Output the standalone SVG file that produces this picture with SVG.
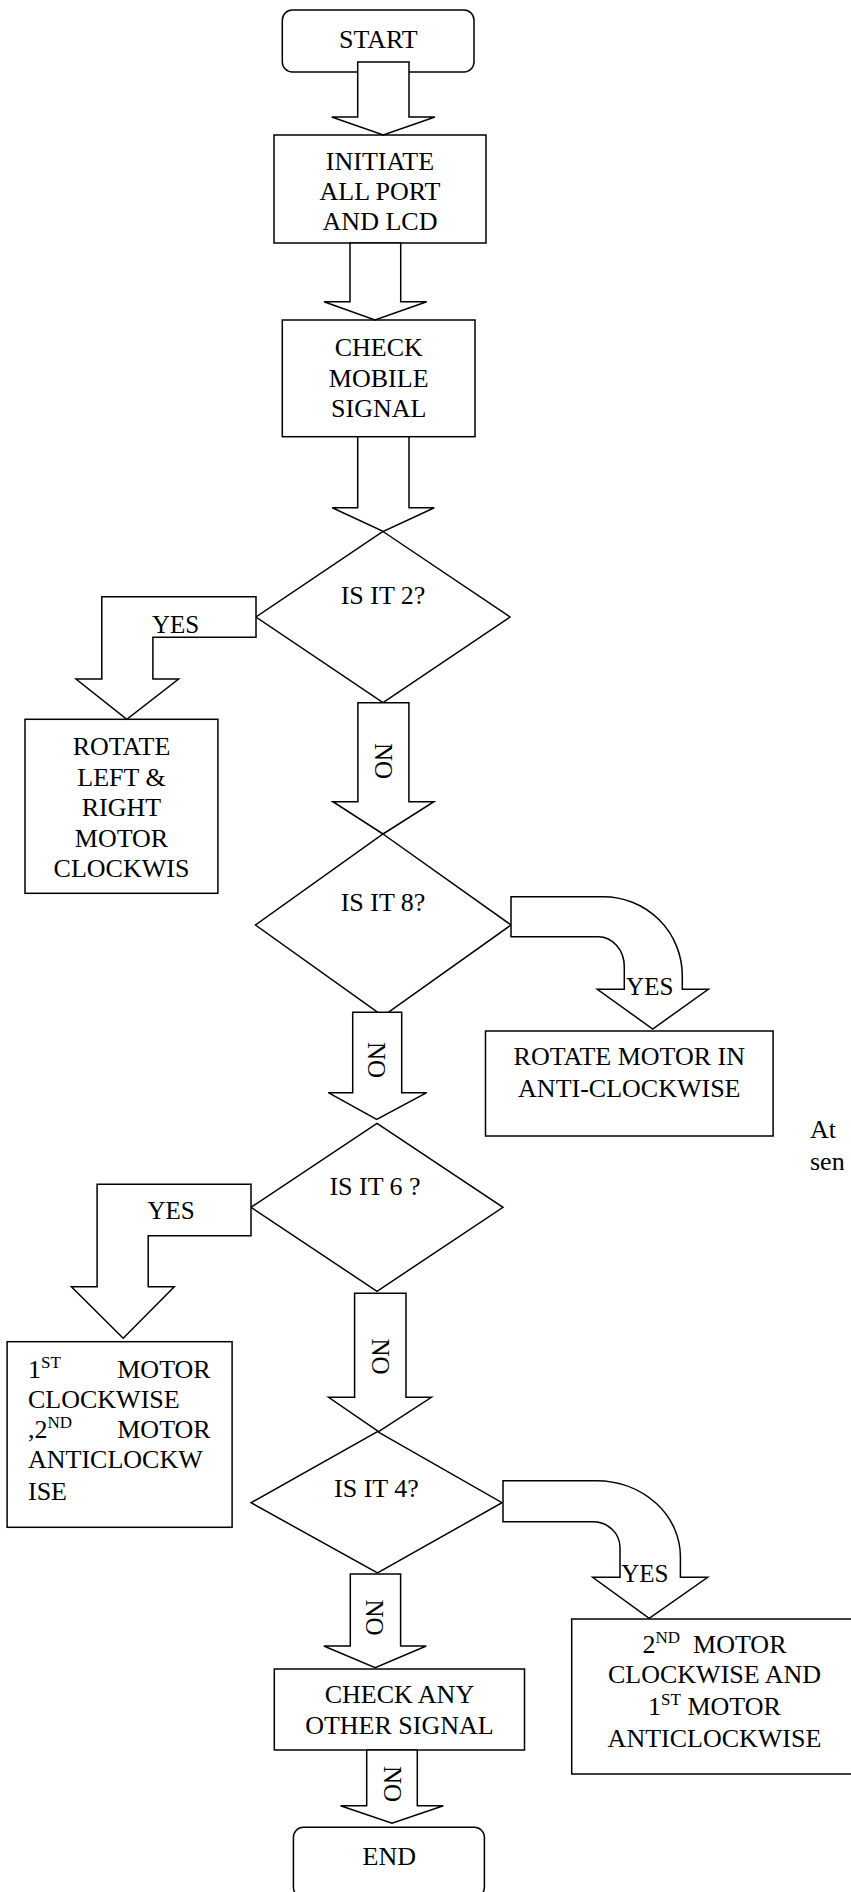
<svg xmlns="http://www.w3.org/2000/svg" width="851" height="1892" viewBox="0 0 851 1892">
<style>
.s{fill:#fff;stroke:#000;stroke-width:1.5;stroke-linejoin:miter}
.t{font-family:"Liberation Serif","Times New Roman",serif;font-size:26px;fill:#000}
.m{text-anchor:middle}
.e{text-anchor:end}
.lb{font-family:"Liberation Serif","Times New Roman",serif;font-size:25px;fill:#000}
</style>
<rect width="851" height="1892" fill="#fff"/>
<g id="nodes">
<g id="start"><rect class="s" x="282.3" y="10" width="191.7" height="62" rx="10"/><text class="t m" x="378.3" y="48.3">START</text></g>
<g id="initiate"><rect class="s" x="274" y="135" width="212" height="108"/><text class="t m" x="380" y="170">INITIATE</text><text class="t m" x="380" y="200">ALL PORT</text><text class="t m" x="380" y="230">AND LCD</text></g>
<g id="check"><rect class="s" x="282.3" y="320" width="192.7" height="116.7"/><text class="t m" x="378.7" y="356">CHECK</text><text class="t m" x="378.7" y="386.5">MOBILE</text><text class="t m" x="378.7" y="417">SIGNAL</text></g>
<g id="d2"><polygon class="s" points="383,531.5 510,617 383,702.5 256,617"/><text class="t m" x="383" y="604">IS IT 2?</text></g>
<g id="rot1"><rect class="s" x="25" y="719.3" width="192.9" height="174"/><text class="t m" x="121.5" y="755">ROTATE</text><text class="t m" x="121.5" y="785.7">LEFT &amp;</text><text class="t m" x="121.5" y="816">RIGHT</text><text class="t m" x="121.5" y="846.7">MOTOR</text><text class="t m" x="121.5" y="876.7">CLOCKWIS</text></g>
<g id="d8"><polygon class="s" points="383,834 511,925 383,1016 255.5,925"/><text class="t m" x="383" y="910.7">IS IT 8?</text></g>
<g id="rot2"><rect class="s" x="485.5" y="1031" width="287.6" height="105"/><text class="t m" x="629.3" y="1065">ROTATE MOTOR IN</text><text class="t m" x="629.3" y="1096.7">ANTI-CLOCKWISE</text></g>
<g id="note"><text class="t" x="810" y="1138">At</text><text class="t" x="810" y="1170">sen</text></g>
<g id="d6"><polygon class="s" points="377,1123.3 503,1207.3 377,1291.3 251,1207.3"/><text class="t m" x="375" y="1195">IS IT 6 ?</text></g>
<g id="box6"><rect class="s" x="7.1" y="1341.7" width="225" height="185.6"/>
<text class="t" x="28" y="1378.3">1<tspan dy="-10" font-size="17">ST</tspan></text><text class="t e" x="210.7" y="1378.3">MOTOR</text>
<text class="t" x="28" y="1408.3">CLOCKWISE</text>
<text class="t" x="28" y="1438.3">,2<tspan dy="-10" font-size="17">ND</tspan></text><text class="t e" x="210.7" y="1438.3">MOTOR</text>
<text class="t" x="28" y="1468.3">ANTICLOCKW</text>
<text class="t" x="28" y="1500">ISE</text></g>
<g id="d4"><polygon class="s" points="377.5,1431.7 502,1502.7 377.5,1573 251,1502.7"/><text class="t m" x="376.4" y="1497.3">IS IT 4?</text></g>
<g id="box4"><rect class="s" x="571.7" y="1619" width="290" height="155"/>
<text class="t m" x="714.5" y="1653.3">2<tspan dy="-10" font-size="17">ND</tspan><tspan dy="10">&#160; MOTOR</tspan></text>
<text class="t m" x="714.5" y="1683.3">CLOCKWISE AND</text>
<text class="t m" x="714.5" y="1715">1<tspan dy="-10" font-size="17">ST</tspan><tspan dy="10"> MOTOR</tspan></text>
<text class="t m" x="714.5" y="1746.7">ANTICLOCKWISE</text></g>
<g id="checkany"><rect class="s" x="274.3" y="1669" width="250.2" height="81"/><text class="t m" x="399.4" y="1703.3">CHECK ANY</text><text class="t m" x="399.4" y="1734.3">OTHER SIGNAL</text></g>
<g id="end"><rect class="s" x="293.4" y="1827.3" width="191" height="70" rx="10"/><text class="t m" x="389.3" y="1865">END</text></g>
</g>
<g id="connectors">
<polygon class="s" points="357.7,62 409,62 409,117 435,117 383.3,135 331.7,117 357.7,117"/>
<polygon class="s" points="350,243 400.7,243 400.7,301.7 426.7,301.7 375,320 324,301.7 350,301.7"/>
<polygon class="s" points="357.7,436.7 409,436.7 409,507.7 434.3,507.7 383.3,531.5 332.3,507.7 357.7,507.7"/>
<polygon class="s" points="256,596.7 101.8,596.7 101.8,679 76,679 126.8,719.3 178.6,679 152.9,679 152.9,637.3 256,637.3"/>
<text class="lb m" x="175.5" y="632.7">YES</text>
<polygon class="s" points="357.9,702.7 408.9,702.7 408.9,801.7 433.9,801.7 383,834 332.9,801.7 357.9,801.7"/>
<text class="lb m" transform="translate(383,761) rotate(90)" y="8.5">NO</text>
<path class="s" d="M511,896.7 H603.3 A79,79 0 0 1 682.3,975.7 V989.3 H708.3 L652.7,1029 L597.3,989.3 H624.3 V966.7 A26,30 0 0 0 598.3,936.7 H511 Z"/>
<text class="lb m" x="649.7" y="995">YES</text>
<polygon class="s" points="352.7,1012.3 401.7,1012.3 401.7,1092.7 426.7,1092.7 376.7,1119.3 328.3,1092.7 352.7,1092.7"/>
<text class="lb m" transform="translate(376.5,1060) rotate(90)" y="8.5">NO</text>
<polygon class="s" points="251,1184.3 97.1,1184.3 97.1,1286.7 71.4,1286.7 123.2,1338.3 174.3,1286.7 148.2,1286.7 148.2,1235.7 251,1235.7"/>
<text class="lb m" x="171" y="1219.3">YES</text>
<polygon class="s" points="354.6,1293.3 406,1293.3 406,1397.3 431.4,1397.3 378.6,1431.7 328.6,1397.3 354.6,1397.3"/>
<text class="lb m" transform="translate(380,1356.5) rotate(90)" y="8.5">NO</text>
<path class="s" d="M503,1480.7 H596.6 A84,76 0 0 1 680.4,1556.7 V1577.3 H707.7 L649.2,1618.3 L592.7,1577.3 H620 V1548 A27,26 0 0 0 592.7,1521.7 H503 Z"/>
<text class="lb m" x="644.9" y="1581.7">YES</text>
<polygon class="s" points="350.3,1574 400.6,1574 400.6,1646 426.3,1646 375.2,1667.7 323.8,1646 350.3,1646"/>
<text class="lb m" transform="translate(374.4,1617.5) rotate(90)" y="8.5">NO</text>
<polygon class="s" points="366.7,1750 417.3,1750 417.3,1805.7 443.4,1805.7 392,1823.3 340.5,1805.7 366.7,1805.7"/>
<text class="lb m" transform="translate(392,1784) rotate(90)" y="8.5">NO</text>
</g>
</svg>
